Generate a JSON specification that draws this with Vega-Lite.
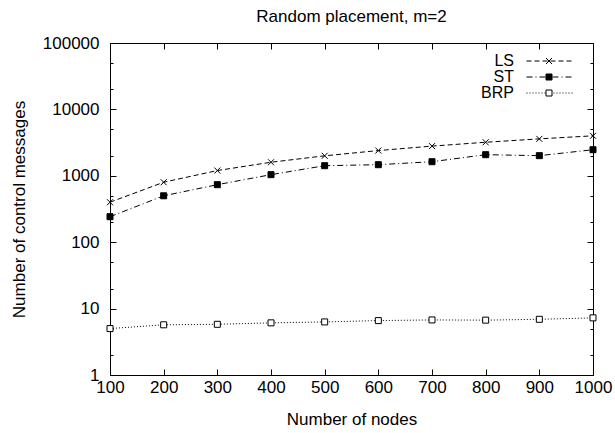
{
  "$schema": "https://vega.github.io/schema/vega-lite/v6.json",
  "width": 483,
  "height": 332,
  "autosize": {"type": "none"},
  "padding": {"left": 110, "top": 43, "right": 22, "bottom": 58},
  "background": "white",
  "title": {"text": "Random placement, m=2", "font": "Liberation Sans", "fontSize": 17, "fontWeight": "normal", "color": "black", "anchor": "middle", "baseline": "alphabetic", "offset": -5, "frame": "group"},
  "config": {
    "view": {"stroke": "black", "strokeWidth": 1},
    "axis": {"labelFont": "Liberation Sans", "labelFontSize": 17, "labelColor": "black", "titleFont": "Liberation Sans", "titleFontSize": 17, "titleFontWeight": "normal", "titleColor": "black", "tickColor": "black", "tickWidth": 1, "grid": false, "domain": false},
    "legend": {"labelFont": "Liberation Sans", "labelFontSize": 16, "labelColor": "black"}
  },
  "data": {"values": [
    {"n": 100, "series": "LS", "sym": "LS", "v": 400},
    {"n": 200, "series": "LS", "sym": "LS", "v": 800},
    {"n": 300, "series": "LS", "sym": "LS", "v": 1200},
    {"n": 400, "series": "LS", "sym": "LS", "v": 1600},
    {"n": 500, "series": "LS", "sym": "LS", "v": 2000},
    {"n": 600, "series": "LS", "sym": "LS", "v": 2400},
    {"n": 700, "series": "LS", "sym": "LS", "v": 2800},
    {"n": 800, "series": "LS", "sym": "LS", "v": 3200},
    {"n": 900, "series": "LS", "sym": "LS", "v": 3600},
    {"n": 1000, "series": "LS", "sym": "LS", "v": 4000},
    {"n": 100, "series": "ST", "sym": "ST", "v": 242},
    {"n": 200, "series": "ST", "sym": "ST", "v": 500},
    {"n": 300, "series": "ST", "sym": "ST", "v": 735},
    {"n": 400, "series": "ST", "sym": "ST", "v": 1040},
    {"n": 500, "series": "ST", "sym": "ST", "v": 1420},
    {"n": 600, "series": "ST", "sym": "ST", "v": 1470},
    {"n": 700, "series": "ST", "sym": "ST", "v": 1630},
    {"n": 800, "series": "ST", "sym": "ST", "v": 2080},
    {"n": 900, "series": "ST", "sym": "ST", "v": 2010},
    {"n": 1000, "series": "ST", "sym": "ST", "v": 2470},
    {"n": 100, "series": "BRP", "sym": "BRP", "v": 5.0},
    {"n": 200, "series": "BRP", "sym": "BRP", "v": 5.7},
    {"n": 300, "series": "BRP", "sym": "BRP", "v": 5.8},
    {"n": 400, "series": "BRP", "sym": "BRP", "v": 6.1},
    {"n": 500, "series": "BRP", "sym": "BRP", "v": 6.3},
    {"n": 600, "series": "BRP", "sym": "BRP", "v": 6.6},
    {"n": 700, "series": "BRP", "sym": "BRP", "v": 6.75},
    {"n": 800, "series": "BRP", "sym": "BRP", "v": 6.7},
    {"n": 900, "series": "BRP", "sym": "BRP", "v": 6.9},
    {"n": 1000, "series": "BRP", "sym": "BRP", "v": 7.25}
  ]},
  "layer": [
    {
      "mark": {"type": "line", "stroke": "black", "strokeWidth": 1},
      "encoding": {
        "x": {"field": "n", "type": "quantitative", "scale": {"domain": [100, 1000], "nice": false, "zero": false},
          "axis": {"orient": "bottom", "values": [100, 200, 300, 400, 500, 600, 700, 800, 900, 1000], "format": "d", "title": "Number of nodes", "tickSize": -6, "labelPadding": 10, "titleX": 241.5, "titleY": 49, "titleBaseline": "alphabetic", "titleAlign": "center", "labelFlush": false, "labelOverlap": false}},
        "y": {"field": "v", "type": "quantitative", "scale": {"type": "log", "domain": [1, 100000], "nice": false},
          "axis": {"orient": "left", "values": [1, 10, 100, 1000, 10000, 100000], "format": "d", "title": "Number of control messages", "tickSize": -6, "labelPadding": 17, "titleX": -86, "titleY": 166, "titleBaseline": "alphabetic", "titleAlign": "center", "titleAngle": -90, "labelFlush": false, "labelOverlap": false}},
        "strokeDash": {"field": "series", "type": "nominal", "scale": {"domain": ["LS", "ST", "BRP"], "range": [[5, 3], [6, 3, 1, 3], [1, 2]]},
          "legend": {"orient": "none", "legendX": 432.5, "legendY": 10, "title": null, "symbolType": "M-16,0H16", "symbolSize": 9, "symbolStrokeColor": "black", "symbolStrokeWidth": 1, "symbolFillColor": "transparent", "labelAlign": "right", "labelOffset": -44.5, "rowPadding": -3, "padding": 0, "zindex": 0}}
      }
    },
    {
      "mark": {"type": "point", "stroke": "black", "strokeWidth": 1, "opacity": 1},
      "encoding": {
        "x": {"field": "n", "type": "quantitative", "axis": {"orient": "top", "values": [100, 200, 300, 400, 500, 600, 700, 800, 900, 1000], "labels": false, "title": null, "tickSize": -6}},
        "y": {"field": "v", "type": "quantitative", "axis": {"orient": "right", "values": [1, 10, 100, 1000, 10000, 100000], "labels": false, "title": null, "tickSize": -6}},
        "shape": {"field": "sym", "type": "nominal", "sort": ["LS", "ST", "BRP"], "scale": {"range": ["M-1,-1L1,1M-1,1L1,-1", "square", "square"]},
          "legend": {"orient": "none", "legendX": 431, "legendY": 10, "title": null, "symbolSize": 36, "symbolStrokeWidth": 1, "symbolFillColor": {"expr": "datum.value === 'ST' ? 'black' : 'white'"}, "labelOpacity": 0, "labelAlign": "right", "labelOffset": -44.5, "rowPadding": -3, "padding": 0, "zindex": 1,
            "encoding": {"symbols": {"fill": {"condition": {"test": "datum.value === 'ST'", "value": "black"}, "value": "white"}, "stroke": {"value": "black"}, "opacity": {"value": 1}}}}},
        "fill": {"field": "sym", "type": "nominal", "sort": ["LS", "ST", "BRP"], "scale": {"range": ["black", "black", "white"]}, "legend": null},
        "size": {"value": 36}
      }
    },
    {
      "mark": {"type": "point", "opacity": 0},
      "encoding": {
        "x": {"field": "n", "type": "quantitative", "axis": null},
        "y": {"field": "v", "type": "quantitative", "axis": {"orient": "left", "values": [2, 5, 20, 50, 200, 500, 2000, 5000, 20000, 50000], "labels": false, "title": null, "tickSize": -3}}
      }
    },
    {
      "mark": {"type": "point", "opacity": 0},
      "encoding": {
        "x": {"field": "n", "type": "quantitative", "axis": null},
        "y": {"field": "v", "type": "quantitative", "axis": {"orient": "right", "values": [2, 5, 20, 50, 200, 500, 2000, 5000, 20000, 50000], "labels": false, "title": null, "tickSize": -3}}
      }
    }
  ],
  "resolve": {"axis": {"x": "independent", "y": "independent"}}
}
